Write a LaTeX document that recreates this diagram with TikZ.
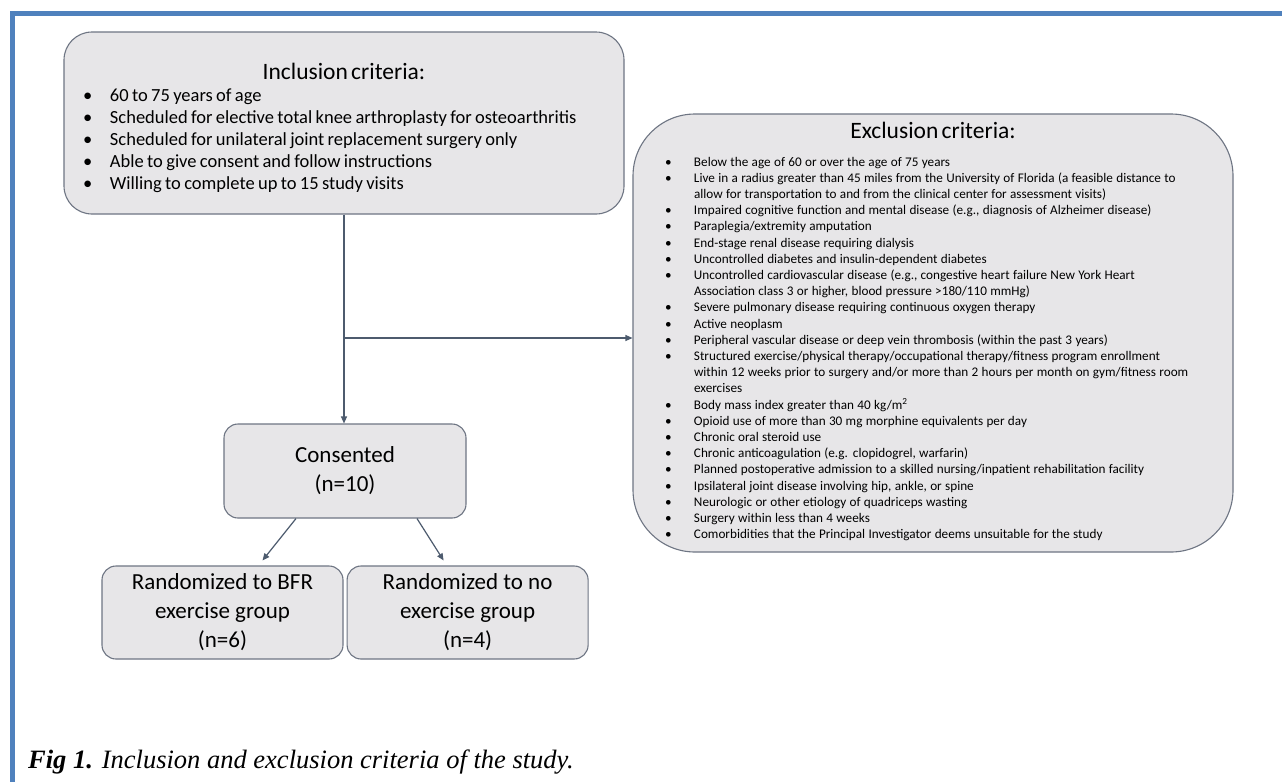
\documentclass[tikz,border=0pt]{standalone}
\usepackage{fontspec}
\setmainfont{Carlito}
\newfontfamily\capfont{Liberation Serif}
\usepackage{xcolor}
\usetikzlibrary{positioning,arrows.meta}

\definecolor{boxfill}{HTML}{E7E6E8}
\definecolor{boxline}{HTML}{6E7583}
\definecolor{linkline}{HTML}{4D5B6E}
\definecolor{frameblue}{HTML}{4F81BD}

\begin{document}
\begin{tikzpicture}[
    x=1pt, y=-1pt,
    node distance=3pt,
    critbox/.style={
        rectangle,
        draw=boxline,
        line width=1.1pt,
        fill=boxfill,
        align=left,
        inner ysep=0pt
    },
    stepbox/.style={
        rectangle,
        rounded corners=14pt,
        draw=boxline,
        line width=1.1pt,
        fill=boxfill,
        align=center,
        minimum width=241pt,
        minimum height=93pt,
        font=\fontsize{23}{29}\selectfont
    },
    arrow/.style={
        -{Triangle[length=7pt,width=6pt]},
        line width=1.2pt,
        draw=linkline
    }
]

\useasboundingbox[fill=white] (0,0) rectangle (1282,782);

% Page frame
\draw[frameblue, line width=5pt] (1282,13.5) -| (12.5,782);

% Criteria boxes
\node[critbox, rounded corners=28pt, inner xsep=19pt, text width=522pt, minimum height=182pt] (inc) at (344,123) {%
    {\centering\fontsize{23.5}{28}\selectfont\rule{0pt}{30pt}Inclusion criteria:\par}
    \vspace{5pt}
    \fontsize{18.5}{22}\selectfont
    \noindent\begin{tabular}{@{}p{27pt}@{}l@{}}
    \textbullet & 60 to 75 years of age\\
    \textbullet & Scheduled for elective total knee arthroplasty for osteoarthritis\\
    \textbullet & Scheduled for unilateral joint replacement surgery only\\
    \textbullet & Able to give consent and follow instructions\\
    \textbullet & Willing to complete up to 15 study visits
    \end{tabular}};

\node[critbox, rounded corners=62pt, inner xsep=32pt, text width=536pt, minimum height=438pt] (exc) at (933,333) {%
    {\centering\fontsize{23.5}{28}\selectfont Exclusion criteria:\par}
    \vspace{15pt}
    \fontsize{13.2}{16.2}\selectfont
    \noindent\begin{tabular}{@{}p{29pt}@{}l@{}}
    \textbullet & Below the age of 60 or over the age of 75 years\\
    \textbullet & Live in a radius greater than 45 miles from the University of Florida (a feasible distance to\\
     & allow for transportation to and from the clinical center for assessment visits)\\
    \textbullet & Impaired cognitive function and mental disease (e.g., diagnosis of Alzheimer disease)\\
    \textbullet & Paraplegia/extremity amputation\\
    \textbullet & End-stage renal disease requiring dialysis\\
    \textbullet & Uncontrolled diabetes and insulin-dependent diabetes\\
    \textbullet & Uncontrolled cardiovascular disease (e.g., congestive heart failure New York Heart\\
     & Association class 3 or higher, blood pressure >180/110 mmHg)\\
    \textbullet & Severe pulmonary disease requiring continuous oxygen therapy\\
    \textbullet & Active neoplasm\\
    \textbullet & Peripheral vascular disease or deep vein thrombosis (within the past 3 years)\\
    \textbullet & Structured exercise/physical therapy/occupational therapy/fitness program enrollment\\
     & within 12 weeks prior to surgery and/or more than 2 hours per month on gym/fitness room\\
     & exercises\\
    \textbullet & Body mass index greater than 40 kg/m\textsuperscript{2}\\
    \textbullet & Opioid use of more than 30 mg morphine equivalents per day\\
    \textbullet & Chronic oral steroid use\\
    \textbullet & Chronic anticoagulation (e.g. clopidogrel, warfarin)\\
    \textbullet & Planned postoperative admission to a skilled nursing/inpatient rehabilitation facility\\
    \textbullet & Ipsilateral joint disease involving hip, ankle, or spine\\
    \textbullet & Neurologic or other etiology of quadriceps wasting\\
    \textbullet & Surgery within less than 4 weeks\\
    \textbullet & Comorbidities that the Principal Investigator deems unsuitable for the study
    \end{tabular}};

% Study flow
\node[stepbox, minimum width=242pt, minimum height=94pt] (cons) at (345,471) {Consented\\(n=10)};
\node[stepbox] (bfr) at (222.5,612.5) {Randomized to BFR\\exercise group\\(n=6)};
\node[stepbox, right=of bfr] (noex) {Randomized to no\\exercise group\\(n=4)};

% Connectors
\coordinate (split) at (inc.south |- 0,338);
\draw[arrow] (inc.south) -- (inc.south |- cons.north);
\draw[arrow] (split) -- (split -| exc.west);
\draw[arrow] ([xshift=-49pt]cons.south) -- ([xshift=40pt, yshift=5pt]bfr.north);
\draw[arrow] ([xshift=72pt]cons.south) -- ([xshift=-24pt, yshift=5pt]noex.north);

% Caption
\node[anchor=west, inner sep=0pt, font=\capfont\itshape\fontsize{26.5}{30}\selectfont] (caption) at (28,762)
    {\textbf{Fig 1.} Inclusion and exclusion criteria of the study.};

\end{tikzpicture}
\end{document}
